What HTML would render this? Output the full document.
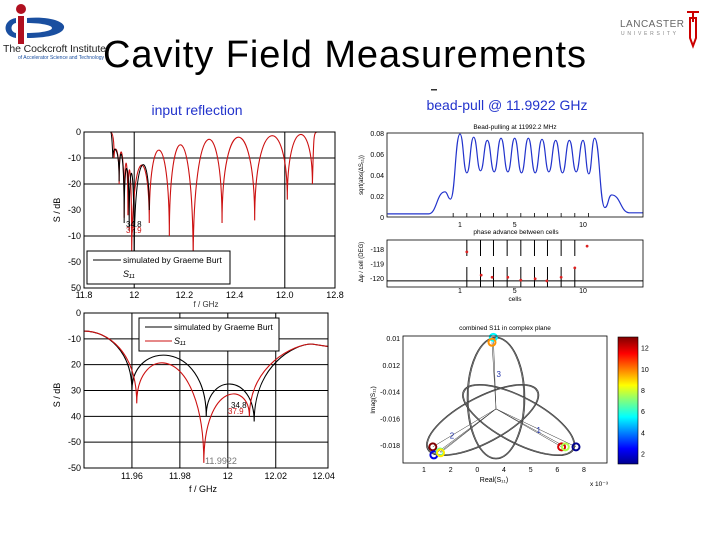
<!DOCTYPE html>
<html><head><meta charset="utf-8"><style>
html,body{margin:0;padding:0;background:#fff;}
svg{display:block;font-family:"Liberation Sans",sans-serif;}
</style></head><body>
<svg id="s" width="720" height="540" viewBox="0 0 720 540" xmlns="http://www.w3.org/2000/svg">
<defs>
<linearGradient id="jet" x1="0" y1="1" x2="0" y2="0">
<stop offset="0" stop-color="#00008f"/><stop offset="0.12" stop-color="#0000ff"/><stop offset="0.37" stop-color="#00ffff"/><stop offset="0.5" stop-color="#7fff7f"/><stop offset="0.62" stop-color="#ffff00"/><stop offset="0.87" stop-color="#ff0000"/><stop offset="1" stop-color="#800000"/>
</linearGradient>
</defs>
<g>
<circle cx="21" cy="9" r="5" fill="#b01020"/>
<rect x="18" y="16" width="6" height="28" fill="#b01020"/>
<path d="M16,18 C2,20 2,36 16,38 L16,33 C10,32 10,24 16,23 Z" fill="#1a4fa0"/>
<path d="M27,18 C50,16 66,22 64,28 C62,35 45,38 27,38 L27,33 C40,33 52,31 52,28 C52,25 40,23 27,23 Z" fill="#1a4fa0"/>
<text x="3" y="52" font-size="10.5" fill="#222" textLength="103">The Cockcroft Institute</text>
<text x="18" y="59" font-size="5" fill="#1a4fa0" textLength="86">of Accelerator Science and Technology</text>
</g>
<text x="103" y="67" font-size="38" fill="#000" textLength="483">Cavity Field Measurements</text>
<rect x="431" y="89" width="6" height="1.5" fill="#333"/>
<g>
<text x="620" y="27" font-size="10" fill="#666" textLength="64">LANCASTER</text>
<text x="621" y="35" font-size="5" fill="#888" textLength="55">UNIVERSITY</text>
<path d="M690,18 L696,18 L696,38 L693,46 L690,38 Z" fill="none" stroke="#c00" stroke-width="2"/>
<path d="M687,12 L699,12 M693,12 L693,22" stroke="#c00" stroke-width="2"/>
</g>
<g id="p1"></g>
<g id="p2"></g>
<g id="p3"></g>
<g id="p4"></g>
<g id="p5"></g>
</svg>
<script>
const p1DipF=[11.92,11.94,11.96,11.975,11.99,12.06,12.14,12.235,12.35,12.48,12.61,12.71];
const p1DipDb=[-10,-20,-33,-32,-50,-35,-40,-50,-35,-34,-26,-20];
const p1PeakDb=[-7,-8,-12,-15,-13,-7,-5,-3,-2,-1.5,-1];
const p1BlkDipF=[11.915,11.94,11.96,11.98,12.0,12.06];
const p1BlkDipDb=[-10,-19,-35,-38,-48,-30];
const p1BlkPeakDb=[-7,-9,-14,-16,-13];
const p1XTicks=[11.8,12,12.2,12.4,12.6,12.8];
const p1XLabels=["11.8","12","12.2","12.4","12.0","12.8"];
const p1YTicks=[0,-10,-20,-30,-40,-50,-60];
const p1YLabels=["0","-10","-20","-30","-10","-50","50"];
const p2RedDipF=[11.962,11.99,12.009];
const p2RedDipDb=[-35,-58,-40];
const p2RedPeakDb=[-20,-32];
const p2BlkDipF=[11.96,11.991,12.011];
const p2BlkDipDb=[-30,-40,-42];
const p2BlkPeakDb=[-16.5,-27.5];
const p2Start=[11.94,-7];
const p2End=[12.042,-13];
const p2XTicks=[11.96,11.98,12,12.02,12.04];
const p2XLabels=["11.96","11.98","12","12.02","12.04"];
const p2YTicks=[0,-10,-20,-30,-40,-50,-60];
const p2YLabels=["0","-10","20","30","40","-50","-50"];
const p3PeakX=[1,2,3,4,5,6,7,8,9,10,10.85];
const p3PeakY=[0.079,0.076,0.073,0.075,0.075,0.075,0.074,0.073,0.073,0.073,0.075];
const p3TroughY=[0.042,0.044,0.043,0.043,0.042,0.042,0.043,0.042,0.043,0.041];
const p3PreX=[-4.3,-1.3,-0.1,0.3];
const p3PreY=[0.003,0.003,0.024,0.017];
const p3PostX=[11.6,12.1,13.4,14.4];
const p3PostY=[0.009,0.021,0.004,0.004];
const p3XTicks=[1,5,10];
const p3YTicks=[0,0.02,0.04,0.06,0.08];
const p3YLabels=["0","0.02","0.04","0.06","0.08"];
const p4CellLines=[1.5,2.5,3.45,4.45,5.45,6.45,7.4,8.4,9.4];
const p4PtX=[1.5,2.55,3.35,4.5,5.45,6.5,7.35,8.4,9.4,10.3];
const p4PtY=[-118.2,-119.8,-119.95,-119.95,-120.15,-120.05,-120.2,-119.95,-119.3,-117.8];
const p4YTicks=[-118,-119,-120];
const p5LoopCx=[3.7,3.2,4.55];
const p5LoopCy=[-0.01449,-0.01613,-0.01613];
const p5LoopRx=[1.04,2.3,2.3];
const p5LoopRy=[0.00449,0.00165,0.00165];
const p5LoopAng=[0,-28,28];
const p5MarkX=[3.6,3.55,1.33,1.37,1.6,1.62,6.16,6.3,6.7];
const p5MarkY=[-0.00995,-0.01032,-0.01814,-0.01874,-0.01852,-0.01858,-0.01814,-0.01814,-0.01814];
const p5MarkV=[5,9,12,2,6,8,11,7,1];
const p5XTicks=[1,2,3,4,5,6,7];
const p5XLabels=["1","2","0","4","5","6","8"];
const p5YTicks=[-0.01,-0.012,-0.014,-0.016,-0.018];
const p5YLabels=["0.01","0.012","-0.014","-0.016","-0.018"];
const p5CbTicks=[2,4,6,8,10,12];

const NS="http://www.w3.org/2000/svg";
function mk(parent,tag,attrs,txt){const e=document.createElementNS(NS,tag);for(const k in attrs)e.setAttribute(k,attrs[k]);if(txt!==undefined)e.textContent=txt;parent.appendChild(e);return e;}
function lin(d0,d1,r0,r1){return v=>r0+(v-d0)/(d1-d0)*(r1-r0);}
function archPath(X,Y,dipF,dipDb,peak){let d="";for(let i=0;i<dipF.length-1;i++){const y0=dipDb[i],y3=dipDb[i+1];const c=(8*peak[i]-y0-y3)/6;d+=` C${X(dipF[i])},${Y(c)} ${X(dipF[i+1])},${Y(c)} ${X(dipF[i+1])},${Y(y3)}`;}return d;}

(function(){
const g=document.getElementById('p1');
const X=lin(11.8,12.8,84,335),Y=lin(0,-60,132,288);
let t=mk(g,'text',{x:197,y:115,'font-size':14,fill:'#2233cc','text-anchor':'middle'},'input reflection');

[12,12.6].forEach(v=>{const l=mk(g,'line',{x1:X(v),x2:X(v),y1:132,y2:288,stroke:'#000','stroke-width':1});});
[-10,-20,-40].forEach(v=>{const l=mk(g,'line',{x1:84,x2:335,y1:Y(v),y2:Y(v),stroke:'#000','stroke-width':1});});
let d=`M${X(11.8)},${Y(0)} L${X(11.905)},${Y(0)} C${X(11.915)},${Y(0)} ${X(11.92)},${Y(-3)} ${X(p1DipF[0])},${Y(p1DipDb[0])}`+archPath(X,Y,p1DipF,p1DipDb,p1PeakDb)+` C${X(12.715)},${Y(-1)} ${X(12.715)},${Y(0)} ${X(12.73)},${Y(0)} L${X(12.8)},${Y(0)}`;
let p=mk(g,'path',{d:d,fill:'none',stroke:'#cc1111','stroke-width':1.1});

d=`M${X(11.905)},${Y(0)} C${X(11.91)},${Y(0)} ${X(11.912)},${Y(-3)} ${X(p1BlkDipF[0])},${Y(p1BlkDipDb[0])}`+archPath(X,Y,p1BlkDipF,p1BlkDipDb,p1BlkPeakDb);
p=mk(g,'path',{d:d,fill:'none',stroke:'#000','stroke-width':1});

const r=mk(g,'rect',{x:84,y:132,width:251,height:156,fill:'none',stroke:'#000','stroke-width':1});

p1XTicks.forEach((v,i)=>{const e=mk(g,'text',{x:X(v),y:298,'font-size':9,'text-anchor':'middle',fill:'#000'},p1XLabels[i]);});
p1YTicks.forEach((v,i)=>{const e=mk(g,'text',{x:81,y:Y(v)+3,'font-size':9,'text-anchor':'end',fill:'#000'},p1YLabels[i]);});
t=mk(g,'text',{x:0,y:0,'font-size':9,'text-anchor':'middle',transform:'translate(60,210) rotate(-90)'},'S / dB');
t=mk(g,'text',{x:206,y:307,'font-size':8,'text-anchor':'middle',fill:'#333'},'f / GHz');
t=mk(g,'text',{x:126,y:227,'font-size':8,fill:'#000'},'34.8');
t=mk(g,'text',{x:126,y:233,'font-size':8,fill:'#cc1111'},'37.9');
const lg=mk(g,'g',{});
mk(lg,'rect',{x:87,y:251,width:143,height:33,fill:'#fff',stroke:'#000','stroke-width':1});
mk(lg,'line',{x1:93,x2:121,y1:260,y2:260,stroke:'#000','stroke-width':1});
mk(lg,'text',{x:123,y:263,'font-size':8.5},'simulated by Graeme Burt');
mk(lg,'text',{x:123,y:277,'font-size':9,'font-style':'italic'},'S₁₁');
})();

(function(){
const g=document.getElementById('p2');
const X=lin(11.94,12.0418,84,328),Y=lin(0,-60,313,468);
p2YTicks.slice(1,6).forEach(v=>{const l=mk(g,'line',{x1:84,x2:328,y1:Y(v),y2:Y(v),stroke:'#000','stroke-width':1});});
p2XTicks.slice(0,4).forEach(v=>{const l=mk(g,'line',{x1:X(v),x2:X(v),y1:313,y2:468,stroke:'#000','stroke-width':1});});
function series(dF,dDb,pk,col,name){
 let d=`M${X(p2Start[0])},${Y(p2Start[1])} C${X(p2Start[0]+0.01)},${Y(p2Start[1])} ${X(dF[0])},${Y(-15)} ${X(dF[0])},${Y(dDb[0])}`+archPath(X,Y,dF,dDb,pk);
 const l=dF.length-1;
 d+=` C${X(dF[l])},${Y(-20)} ${X(12.028)},${Y(-12)} ${X(12.035)},${Y(-12)} L${X(p2End[0])},${Y(p2End[1])}`;
 const p=mk(g,'path',{d:d,fill:'none',stroke:col,'stroke-width':1.1});
 }
series(p2BlkDipF,p2BlkDipDb,p2BlkPeakDb,'#000','p2-simulated-line');
series(p2RedDipF,p2RedDipDb,p2RedPeakDb,'#cc1111','p2-measured-line');
const r=mk(g,'rect',{x:84,y:313,width:244,height:155,fill:'none',stroke:'#000','stroke-width':1});

p2XTicks.forEach((v,i)=>{const e=mk(g,'text',{x:X(v),y:479,'font-size':9,'text-anchor':'middle'},p2XLabels[i]);});
p2YTicks.forEach((v,i)=>{const e=mk(g,'text',{x:81,y:Y(v)+3,'font-size':9,'text-anchor':'end'},p2YLabels[i]);});
let t=mk(g,'text',{x:0,y:0,'font-size':9,'text-anchor':'middle',transform:'translate(60,395) rotate(-90)'},'S / dB');
t=mk(g,'text',{x:203,y:492,'font-size':9,'text-anchor':'middle'},'f / GHz');
t=mk(g,'text',{x:205,y:464,'font-size':9,fill:'#777'},'11.9922');
t=mk(g,'text',{x:231,y:408,'font-size':8},'34.8');
t=mk(g,'text',{x:228,y:414,'font-size':8,fill:'#cc1111'},'37.9');
const lg=mk(g,'g',{});
mk(lg,'rect',{x:139,y:318,width:140,height:33,fill:'#fff',stroke:'#000','stroke-width':1});
mk(lg,'line',{x1:145,x2:172,y1:327,y2:327,stroke:'#000','stroke-width':1});
mk(lg,'text',{x:174,y:330,'font-size':8.5},'simulated by Graeme Burt');
mk(lg,'line',{x1:145,x2:172,y1:341,y2:341,stroke:'#cc1111','stroke-width':1});
mk(lg,'text',{x:174,y:344,'font-size':9,'font-style':'italic'},'S₁₁');
})();

(function(){
const g=document.getElementById('p3');
const X=lin(1,10,460,583),Y=lin(0,0.08,217,133);
let t=mk(g,'text',{x:507,y:110,'font-size':14,fill:'#2233cc','text-anchor':'middle'},'bead-pull @ 11.9922 GHz');
t=mk(g,'text',{x:515,y:129,'font-size':6.5,'text-anchor':'middle'},'Bead-pulling at 11992.2 MHz');
const xs=[],ys=[];
p3PreX.forEach((v,i)=>{xs.push(v);ys.push(p3PreY[i]);});
p3PeakX.forEach((v,i)=>{xs.push(v);ys.push(p3PeakY[i]);if(i<p3TroughY.length){xs.push((v+p3PeakX[i+1])/2);ys.push(p3TroughY[i]);}});
p3PostX.forEach((v,i)=>{xs.push(v);ys.push(p3PostY[i]);});
let d=`M${X(xs[0])},${Y(ys[0])}`;
for(let i=1;i<xs.length;i++){const x0=X(xs[i-1]),x1=X(xs[i]),h=(x1-x0)/2;d+=` C${x0+h},${Y(ys[i-1])} ${x1-h},${Y(ys[i])} ${x1},${Y(ys[i])}`;}
const p=mk(g,'path',{d:d,fill:'none',stroke:'#2233cc','stroke-width':1.2});
const r=mk(g,'rect',{x:387,y:133,width:256,height:84,fill:'none',stroke:'#000','stroke-width':0.8});
p3YTicks.forEach((v,i)=>{const e=mk(g,'text',{x:384,y:Y(v)+3,'font-size':7,'text-anchor':'end'},p3YLabels[i]);});
p3XTicks.forEach(v=>{const e=mk(g,'text',{x:X(v),y:227,'font-size':7,'text-anchor':'middle'},String(v));});
p4CellLines.concat([0.5,10.4]).forEach(v=>{const l=mk(g,'line',{x1:X(v),x2:X(v),y1:217,y2:213,stroke:'#000','stroke-width':0.8});});
t=mk(g,'text',{x:0,y:0,'font-size':6,'text-anchor':'middle',transform:'translate(363,175) rotate(-90)'},'sqrt(abs(ΔS₁₁))');
t=mk(g,'text',{x:516,y:234,'font-size':6.5,'text-anchor':'middle'},'phase advance between cells');
})();

(function(){
const g=document.getElementById('p4');
const X=lin(1,10,460,583),Y=lin(-118,-120,249,278);
const l0=mk(g,'line',{x1:387,x2:643,y1:Y(-120.2),y2:Y(-120.2),stroke:'#000','stroke-width':1});
p4CellLines.forEach(v=>{
 let l=mk(g,'line',{x1:X(v),x2:X(v),y1:240,y2:256,stroke:'#000','stroke-width':1});
 l=mk(g,'line',{x1:X(v),x2:X(v),y1:267,y2:287,stroke:'#000','stroke-width':1});});
p4PtX.forEach((v,i)=>{const c=mk(g,'circle',{cx:X(v),cy:Y(p4PtY[i]),r:1.4,fill:'#dd2222'});});
const r=mk(g,'rect',{x:387,y:240,width:256,height:47,fill:'none',stroke:'#000','stroke-width':0.8});
p4YTicks.forEach(v=>{const e=mk(g,'text',{x:384,y:Y(v)+3,'font-size':7,'text-anchor':'end'},String(v));});
p3XTicks.forEach(v=>{const e=mk(g,'text',{x:X(v),y:293,'font-size':7,'text-anchor':'middle'},String(v));});
let t=mk(g,'text',{x:515,y:301,'font-size':6.5,'text-anchor':'middle'},'cells');
t=mk(g,'text',{x:0,y:0,'font-size':6,'text-anchor':'middle',transform:'translate(363,262) rotate(-90)'},'Δφ / cell (DEG)');
})();

(function(){
const g=document.getElementById('p5');
const X=lin(1,7,424,584),Y=lin(-0.01,-0.018,338,445);
let t=mk(g,'text',{x:505,y:330,'font-size':6.5,'text-anchor':'middle'},'combined S11 in complex plane');
const cx0=X(3.7),cy0=Y(-0.0153);
p5MarkX.forEach((v,i)=>{const l=mk(g,'line',{x1:cx0,y1:cy0,x2:X(v),y2:Y(p5MarkY[i]),stroke:'#333','stroke-width':0.5});});
p5LoopCx.forEach((v,i)=>{
 const rx=X(v+p5LoopRx[i])-X(v),ry=Y(p5LoopCy[i]-p5LoopRy[i])-Y(p5LoopCy[i]);
 [0,1.5,3].forEach(o=>{
  const e=mk(g,'ellipse',{cx:X(v),cy:Y(p5LoopCy[i]),rx:rx+o*0.4,ry:ry+o*0.3,transform:`rotate(${p5LoopAng[i]} ${X(v)} ${Y(p5LoopCy[i])})`,fill:'none',stroke:o===1.5?'#888':'#333','stroke-width':0.7});
  
 });
});
function jet(v){const t=(v-1)/11;const c=[[0,0,143],[0,0,255],[0,255,255],[255,255,0],[255,0,0],[128,0,0]];const s=[0,0.12,0.37,0.62,0.87,1];for(let k=1;k<s.length;k++)if(t<=s[k]){const f=(t-s[k-1])/(s[k]-s[k-1]);return `rgb(${c[k-1].map((a,j)=>Math.round(a+(c[k][j]-a)*f)).join(',')})`;}return 'rgb(128,0,0)';}
p5MarkX.forEach((v,i)=>{const c=mk(g,'circle',{cx:X(v),cy:Y(p5MarkY[i]),r:3.5,fill:'none',stroke:jet(p5MarkV[i]),'stroke-width':2});});
[['3',X(3.8),Y(-0.0129)],['2',X(2.05),Y(-0.0175)],['1',X(5.3),Y(-0.0171)]].forEach(a=>{const e=mk(g,'text',{x:a[1],y:a[2],'font-size':8,fill:'#2233aa','text-anchor':'middle'},a[0]);});
const r=mk(g,'rect',{x:403,y:336,width:204,height:127,fill:'none',stroke:'#000','stroke-width':0.8});
p5YTicks.forEach((v,i)=>{const e=mk(g,'text',{x:400,y:Y(v)+3,'font-size':7,'text-anchor':'end'},p5YLabels[i]);});
p5XTicks.forEach((v,i)=>{const e=mk(g,'text',{x:X(v),y:472,'font-size':7,'text-anchor':'middle'},p5XLabels[i]);});
t=mk(g,'text',{x:494,y:482,'font-size':7,'text-anchor':'middle'},'Real(S₁₁)');
t=mk(g,'text',{x:590,y:486,'font-size':6.5},'x 10⁻³');
t=mk(g,'text',{x:0,y:0,'font-size':6.5,'text-anchor':'middle',transform:'translate(375,400) rotate(-90)'},'Imag(S₁₁)');
const cb=mk(g,'rect',{x:618,y:337,width:20,height:127,fill:'url(#jet)',stroke:'#000','stroke-width':0.6});
const CY=lin(1,13,464,337);
p5CbTicks.forEach(v=>{const e=mk(g,'text',{x:641,y:CY(v)+3,'font-size':7},String(v));});
})();
</script>
</body></html>
